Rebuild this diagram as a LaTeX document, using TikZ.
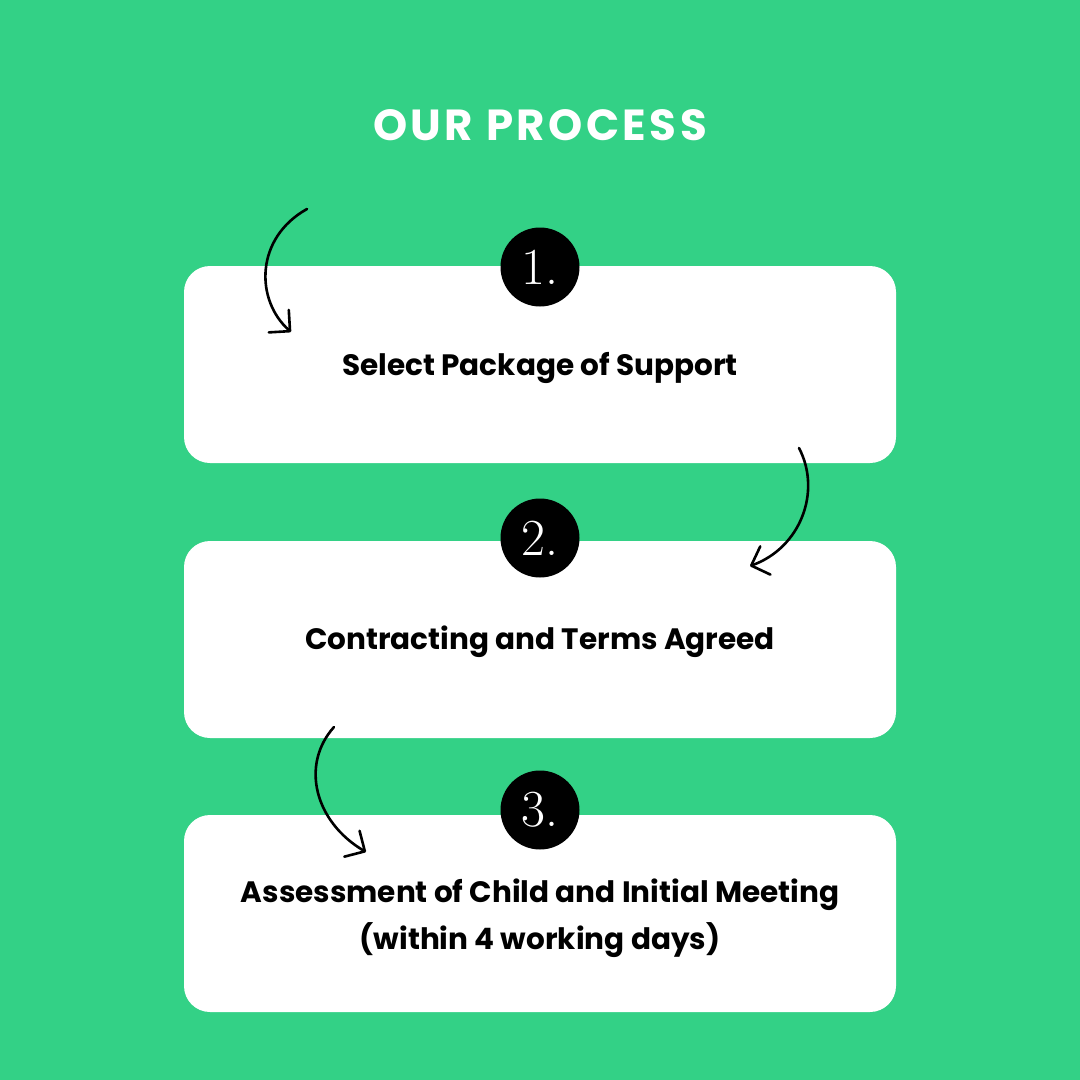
\documentclass[tikz,border=0pt]{standalone}
\usepackage{fontspec}
\setmainfont{Poppins}
\newfontfamily\titlefont[LetterSpace=8]{Poppins}
\usetikzlibrary{arrows.meta}
\definecolor{bggreen}{HTML}{33D186}
\tikzset{
  stepbox/.style={fill=white, rounded corners=26pt, minimum width=712pt, minimum height=197pt, inner sep=0pt},
  numcirc/.style={circle, fill=black, minimum size=79pt, inner sep=0pt, text=white, font=\rmfamily\fontspec{Latin Modern Roman}\fontsize{52}{52}\selectfont},
  steptext/.style={font=\bfseries\fontsize{29.5}{47}\selectfont, align=center},
  curvy/.style={line width=2.6pt, line cap=round, -{Straight Barb[length=15pt,width=30pt,line width=2.6pt,round]}}
}
\begin{document}
\begin{tikzpicture}[x=1pt,y=-1pt]
\fill[bggreen] (0,0) rectangle (1080,1080);
\useasboundingbox (0,0) rectangle (1080,1080);
\node[text=white, font=\titlefont\bfseries\fontsize{43.5}{43.5}\selectfont] (title) at (540,125) {OUR PROCESS};
\node[stepbox] (b1) at (540,364.5) {};
\node[stepbox] (b2) at (540,639.5) {};
\node[stepbox] (b3) at (540,913.5) {};
\node[numcirc] (n1) at (540,267) {1.};
\node[numcirc] (n2) at (540,538) {2.};
\node[numcirc] (n3) at (540,810) {3.};
\node[steptext] (t1) at (540,368) {Select Package of Support};
\node[steptext] (t2) at (540,642) {Contracting and Terms Agreed};
\node[steptext] (t3) at (540,918) {Assessment of Child and Initial Meeting\\(within 4 working days)};
\coordinate (a1s) at (307,209);
\coordinate (a1e) at (291,332);
\coordinate (a2s) at (799,448);
\coordinate (a2e) at (750,566);
\coordinate (a3s) at (334,727);
\coordinate (a3e) at (366,852);
\draw[curvy] (a1s) .. controls (255,238) and (255,300) .. (a1e);
\draw[curvy] (a2s) .. controls (822,492) and (800,548) .. (a2e);
\draw[curvy] (a3s) .. controls (300,765) and (315,822) .. (a3e);
\end{tikzpicture}
\end{document}
